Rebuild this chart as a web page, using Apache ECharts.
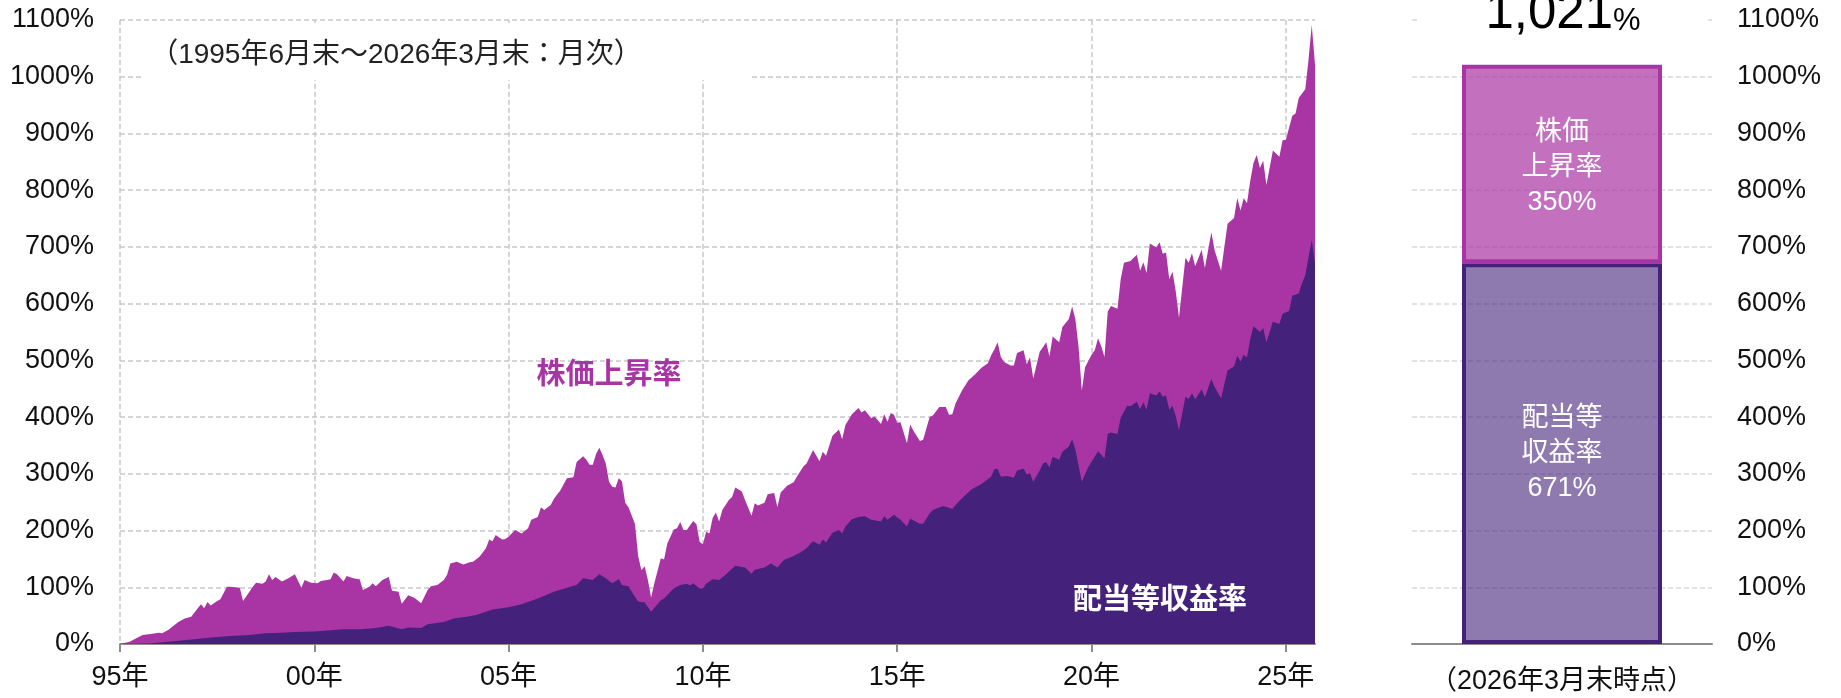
<!DOCTYPE html>
<html><head><meta charset="utf-8">
<script src="https://cdn.jsdelivr.net/npm/echarts@6/dist/echarts.min.js"></script>
<style>html,body{margin:0;padding:0;background:#fff}#c{width:1841px;height:698px}</style>
</head><body><div id="c"></div>
<script>
// month index 0 = 1995/06, 369 = 2026/03
const MONTH_COUNT = 370;
const yearTickLabels = ['95年','00年','05年','10年','15年','20年','25年'];
const TICK_EVERY = 60;

// 配当等込み累積リターン（上端）
const totalMonths = [0,3,5,7,10,12,13,15,18,20,22,24,25,26,27,28,30,31,33,34,37,38,39,41,42,44,45,46,47,48,50,52,54,56,57,59,61,62,64,65,66,67,69,70,72,74,75,77,78,79,81,83,84,86,87,89,91,93,95,96,98,100,101,102,104,106,108,109,111,113,114,115,116,118,119,120,122,124,126,127,129,130,131,133,134,136,138,140,141,143,144,145,146,147,148,149,150,151,152,153,154,155,156,157,159,160,161,162,163,164,165,167,168,169,171,172,173,174,175,177,178,179,180,181,182,183,184,185,186,188,189,190,192,193,195,196,197,199,200,202,203,204,206,208,209,211,212,214,216,217,218,220,222,223,224,226,228,229,230,232,233,235,236,237,238,239,240,241,243,244,245,247,248,250,251,253,255,256,257,258,260,262,264,266,268,269,270,271,272,273,275,276,277,279,280,281,282,284,285,286,287,288,290,291,293,294,295,296,297,298,300,301,302,303,304,305,306,308,309,310,312,314,315,316,317,318,320,321,322,323,324,325,326,327,329,330,331,332,334,335,337,338,340,342,344,345,346,347,348,349,350,351,352,353,354,356,358,359,360,362,363,364,366,367,368,369];
const totalValues = [0,4,10,16,18,20,19,25,39,45,48,63,70,63,74,68,76,79,101,101,99,76,84,101,108,106,110,123,113,118,110,116,123,99,113,108,107,111,113,114,126,123,110,120,116,114,95,101,107,102,113,118,94,92,71,86,81,72,95,102,104,113,122,142,145,140,144,145,154,169,184,181,192,184,185,189,201,195,204,219,224,241,236,245,256,271,292,294,321,331,325,316,316,335,346,333,318,286,277,276,292,287,249,241,212,155,130,137,113,82,107,151,149,177,202,204,215,201,201,217,211,180,176,198,195,222,232,216,236,254,259,276,269,254,226,248,244,249,264,266,241,267,279,285,295,313,318,342,322,339,332,367,378,361,386,405,416,408,412,398,401,388,405,392,407,404,390,391,354,387,376,358,360,400,403,418,418,404,405,424,447,465,475,487,495,509,519,532,506,497,491,491,513,518,493,505,468,515,523,532,507,542,532,559,573,595,573,523,447,488,510,518,539,525,506,586,596,591,643,672,675,686,658,673,654,706,699,708,688,690,643,656,622,575,681,672,689,666,695,663,726,694,658,741,751,786,764,786,777,816,848,862,839,852,809,870,859,888,889,931,935,963,978,1030,1091,1021];

// 配当等収益率（下端）
const dividendMonths = [0,9,19,29,34,40,45,50,54,60,64,69,74,79,83,85,87,89,93,95,100,103,107,110,115,120,124,129,134,139,141,143,146,148,150,152,154,155,157,158,160,162,164,167,168,170,171,173,175,176,177,179,180,181,183,185,187,190,193,195,196,199,201,203,205,208,210,212,214,216,217,218,220,222,223,224,226,228,230,232,235,236,237,239,240,241,243,244,247,248,250,251,254,255,257,259,261,263,266,269,270,271,272,274,276,277,279,280,281,282,284,285,286,287,288,290,291,293,294,295,297,299,300,302,304,305,306,308,309,311,312,314,315,316,317,318,320,321,322,323,324,325,326,327,329,330,331,332,334,335,337,338,340,342,344,345,346,347,348,349,350,352,353,354,356,358,359,361,362,364,365,366,368,369];
const dividendValues = [0,1,6,12,14,16,19,20,21,22,24,26,26,28,32,29,26,29,28,35,39,45,48,51,61,65,70,80,92,101,104,116,113,123,116,107,114,104,102,92,75,73,57,77,80,92,98,104,106,103,107,98,98,106,114,113,122,138,135,124,131,135,142,135,148,155,161,169,181,175,184,179,196,201,195,207,220,224,225,219,216,225,219,228,223,219,207,221,212,212,230,236,243,242,238,251,262,273,282,295,308,309,295,296,293,306,309,299,301,286,306,318,321,311,330,325,339,348,361,343,286,312,321,340,327,370,373,370,399,420,419,427,414,426,413,442,438,445,436,438,413,420,402,377,436,432,442,431,449,435,467,453,433,482,489,508,498,510,505,537,560,550,557,532,568,564,582,587,614,618,636,650,712,671];

// 右の棒（2026年3月末時点）
const barCategory = ['（2026年3月末時点）'];
const barDividend = [671];
const barPrice = [350];
const barDividendName = '配当等\n収益率';
const barPriceName = '株価\n上昇率';

const noteText = '（1995年6月末～2026年3月末：月次）';
const priceLabel = '株価上昇率';
const dividendLabel = '配当等収益率';

const FONT = "'Liberation Sans', Arial, 'Noto Sans CJK JP', sans-serif";
const MAGENTA = '#a934a4';
const PURPLE = '#44217a';

const categories = [];
for (let i = 0; i < MONTH_COUNT; i++) {
  const t = 1995 * 12 + 5 + i;
  categories.push(Math.floor(t / 12) + '/' + String(t % 12 + 1).padStart(2, '0'));
}
function toSeries(idx, vals) {
  const a = new Array(MONTH_COUNT).fill(null);
  idx.forEach((m, i) => { a[m] = vals[i]; });
  return a;
}
const tickFn = (index) => index % TICK_EVERY === 0;
const pct = (v) => v + '%';
const totalText = (barDividend[0] + barPrice[0]).toLocaleString('en-US');

const chart = echarts.init(document.getElementById('c'), null, {renderer: 'canvas'});
chart.setOption({
  animation: false,
  textStyle: {fontFamily: FONT},
  grid: [
    {left: 120, top: 20, width: 1195, height: 624},
    {left: 1412, top: 20, width: 300, height: 624}
  ],
  xAxis: [
    {
      type: 'category', gridIndex: 0, data: categories, boundaryGap: false,
      axisLine: {lineStyle: {color: '#8c8c8c', width: 2}},
      axisTick: {show: true, interval: tickFn, length: 8, lineStyle: {color: '#8c8c8c', width: 2}},
      axisLabel: {interval: tickFn, formatter: (v, i) => yearTickLabels[i / TICK_EVERY] || '',
        fontSize: 27, color: '#111', margin: 20, fontFamily: FONT},
      splitLine: {show: true, interval: tickFn, lineStyle: {color: '#c8c8c8', width: 1.5, type: [5, 3]}}
    },
    {
      type: 'category', gridIndex: 1, data: barCategory,
      axisLine: {lineStyle: {color: '#8c8c8c', width: 2}},
      axisTick: {show: false},
      axisLabel: {fontSize: 27, color: '#111', margin: 24, fontFamily: FONT}
    }
  ],
  yAxis: [
    {
      type: 'value', gridIndex: 0, min: 0, max: 1100, interval: 100,
      axisLabel: {formatter: pct, fontSize: 27, color: '#111', margin: 26, fontFamily: FONT},
      axisLine: {show: false}, axisTick: {show: false},
      splitLine: {lineStyle: {color: '#c8c8c8', width: 1.5, type: [5, 3]}}
    },
    {
      type: 'value', gridIndex: 1, position: 'right', min: 0, max: 1100, interval: 100,
      axisLabel: {formatter: pct, fontSize: 27, color: '#111', margin: 25, fontFamily: FONT},
      axisLine: {show: false}, axisTick: {show: false},
      splitLine: {lineStyle: {color: '#d9d9d9', width: 1.5, type: [5, 3]}}
    }
  ],
  series: [
    {
      type: 'line', xAxisIndex: 0, yAxisIndex: 0, data: toSeries(totalMonths, totalValues),
      connectNulls: true, showSymbol: false, symbol: 'none',
      lineStyle: {width: 0}, areaStyle: {color: MAGENTA, opacity: 1}, z: 2
    },
    {
      type: 'line', xAxisIndex: 0, yAxisIndex: 0, data: toSeries(dividendMonths, dividendValues),
      connectNulls: true, showSymbol: false, symbol: 'none',
      lineStyle: {width: 0}, areaStyle: {color: PURPLE, opacity: 1}, z: 3
    },
    {
      type: 'bar', xAxisIndex: 1, yAxisIndex: 1, stack: 'b', barWidth: 200, data: barDividend,
      itemStyle: {color: 'rgba(68,33,122,0.6)', borderColor: PURPLE, borderWidth: 4},
      label: {show: true, position: 'inside', formatter: p => barDividendName + '\n' + p.value + '%',
        color: '#fff', fontSize: 27, lineHeight: 35, textBorderWidth: 0, fontFamily: FONT}
    },
    {
      type: 'bar', xAxisIndex: 1, yAxisIndex: 1, stack: 'b', barWidth: 200, data: barPrice,
      itemStyle: {color: 'rgba(169,52,164,0.7)', borderColor: MAGENTA, borderWidth: 4},
      label: {show: true, position: 'inside', offset: [0, 3], formatter: p => barPriceName + '\n' + p.value + '%',
        color: '#fff', fontSize: 27, lineHeight: 35, textBorderWidth: 0, fontFamily: FONT}
    }
  ],
  graphic: [
    {type: 'rect', shape: {x: 143, y: 23, width: 609, height: 57}, style: {fill: '#fff'}, z: 1, silent: true},
    {type: 'text', x: 396, y: 55, z: 10, style: {text: noteText, fontSize: 28, fontFamily: FONT, fill: '#222', align: 'center', verticalAlign: 'middle'}},
    {type: 'text', x: 609, y: 376, z: 100, style: {text: priceLabel, fontSize: 29, fontWeight: 'bold', fontFamily: FONT, fill: MAGENTA, align: 'center', verticalAlign: 'middle'}},
    {type: 'text', x: 1160, y: 601, z: 100, style: {text: dividendLabel, fontSize: 29, fontWeight: 'bold', fontFamily: FONT, fill: '#fff', align: 'center', verticalAlign: 'middle'}},
    {type: 'rect', shape: {x: 1419, y: 0, width: 289, height: 55}, style: {fill: '#fff'}, z: 1, silent: true},
    {type: 'text', x: 1613, y: 14, z: 10, style: {text: totalText, fontSize: 51, fontFamily: FONT, fill: '#000', align: 'right', verticalAlign: 'middle'}},
    {type: 'text', x: 1613, y: 21, z: 10, style: {text: '%', fontSize: 31, fontFamily: FONT, fill: '#000', align: 'left', verticalAlign: 'middle'}}
  ]
});
</script></body></html>
